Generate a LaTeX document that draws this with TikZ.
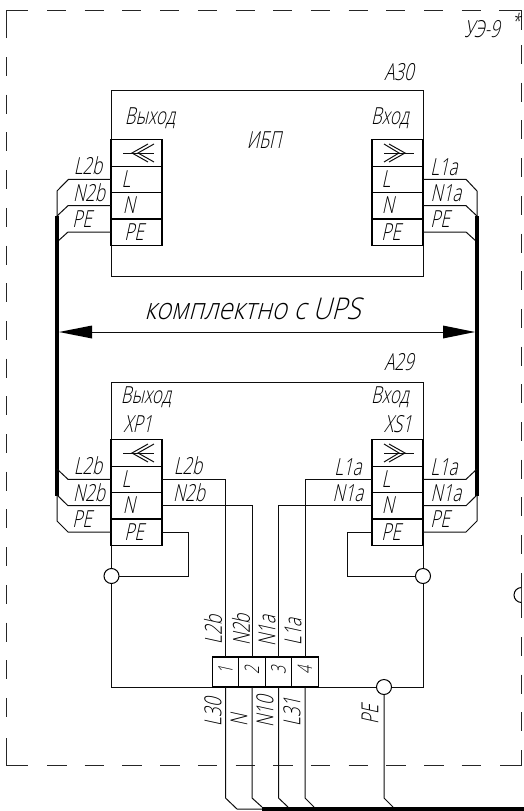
\documentclass[tikz,border=0pt]{standalone}
\usepackage{fontspec}
\setmainfont[FakeSlant=0.22,FakeStretch=0.72]{Open Sans Light}
\usetikzlibrary{arrows.meta}
\definecolor{ink}{gray}{0.05}
\tikzset{
  x=1pt,y=-1pt,
  wire/.style={line width=1pt,draw=ink,line join=miter},
  heavy/.style={line width=4.4pt,draw=black},
  cell/.style={draw=black,line width=1.2pt,minimum width=51pt,minimum height=26.4pt,inner sep=0pt,outer sep=0pt},
  box/.style={draw=ink,line width=1pt},
  ring/.style={circle,draw=black,fill=white,line width=1pt,minimum size=15pt,inner sep=0pt,outer sep=0pt},
  lab/.style={inner sep=0pt,font=\fontsize{23.5}{24}\selectfont,text=black},
  tlab/.style={lab,rotate=90},
  frame/.style={line width=1pt,draw=black!85},
  dim/.style={line width=1pt,draw=ink},
  termcell/.style={draw=black,line width=1.2pt,minimum width=26.5pt,minimum height=30pt,inner sep=0pt,outer sep=0pt,fill=white},
}
\newcommand{\blockat}[3]{% prefix, x-left, y-top
  \node[cell] (#1s) at (#2+25.5,#3+13) {};
  \node[cell] (#1l) at (#2+25.5,#3+39.3) {};
  \node[cell] (#1n) at (#2+25.5,#3+65.7) {};
  \node[cell] (#1p) at (#2+25.5,#3+92) {};
}
\begin{document}
\begin{tikzpicture}
\useasboundingbox (0,0) rectangle (524,811);
\clip (0,0) rectangle (524,811);
% frame
\draw[frame] (6,38) -- (6,10) -- (28,10);
\draw[frame] (6,738) -- (6,765) -- (28,765);
\draw[frame] (499,10) -- (521,10) -- (521,30);
\draw[frame] (500,765) -- (521,765) -- (521,750);
\foreach \k in {0,...,11}{
  \draw[frame] (47+37.7*\k,10) -- +(19,0);
  \draw[frame] (47+37.7*\k,765) -- +(19.5,0);
}
\foreach \k in {0,...,17}{
  \draw[frame] (6,57+37.7*\k) -- +(0,19);
}
\foreach \k in {0,...,13}{
  \draw[frame] (521,45+37.7*\k) -- +(0,19);
}
\draw[frame] (521,573) -- (521,618);
\foreach \k in {0,1,2}{
  \draw[frame] (521,637+37.5*\k) -- +(0,19);
}
\begin{scope}
\clip (500,580) rectangle (521,610);
\node[ring] (chassis) at (521.5,595) {};
\end{scope}
% boxes
\draw[box] (111,90) rectangle (423,276);
\node[lab] (ttl) at (150,118) {Выход};
\node[lab] (tti) at (390,118) {Вход};
\node[lab] (ups) at (264,140) {ИБП};
\node[lab] (a30) at (399,72) {А30};
\node[lab] (ue) at (482,29) {УЭ-9};
\node[lab,font=\fontsize{20}{20}\selectfont] (star) at (516,21) {*};
\blockat{ua}{111}{140}
\blockat{ub}{372}{140}
\draw[box] (111,382) rectangle (423,687);
\node[lab] (a29) at (399,362) {А29};
\node[lab] (ttv) at (146,397) {Выход};
\node[lab] (xp) at (138,424) {XP1};
\node[lab] (ttw) at (390,397) {Вход};
\node[lab] (xs) at (398,424) {XS1};
\blockat{ka}{111}{440}
\blockat{kb}{372}{440}
% plug symbols
\foreach \yy in {153,453}{
  \draw[wire] (123,\yy) -- (154,\yy);
  \draw[wire] (148,\yy-9) -- (132,\yy) -- (148,\yy+9);
  \draw[wire] (154,\yy-9) -- (138,\yy) -- (154,\yy+9);
  \draw[wire] (384,\yy) -- (414,\yy);
  \draw[wire] (384,\yy-9) -- (399,\yy) -- (384,\yy+9);
  \draw[wire] (389,\yy-9) -- (405,\yy) -- (389,\yy+9);
}
% cell labels
\foreach \off in {0,300}{
  \node[lab] at (126,179+\off) {L};
  \node[lab] at (129,205.5+\off) {N};
  \node[lab] at (134,232+\off) {PE};
  \node[lab] at (386,179+\off) {L};
  \node[lab] at (388,205.5+\off) {N};
  \node[lab] at (391,232+\off) {PE};
}
% outer labels
\foreach \off in {0,300}{
  \node[lab] at (88,166+\off) {L2b};
  \node[lab] at (89,193+\off) {N2b};
  \node[lab] at (82,219+\off) {PE};
  \node[lab] at (444,167+\off) {L1a};
  \node[lab] at (446,193+\off) {N1a};
  \node[lab] at (440,219+\off) {PE};
}
\node[lab] at (188,466) {L2b};
\node[lab] at (189,493) {N2b};
\node[lab] at (348,467) {L1a};
\node[lab] at (348,493) {N1a};
% bus
\coordinate (lbt) at (57,216);
\coordinate (lbb) at (57,496);
\coordinate (rbt) at (477,216);
\coordinate (rbb) at (477,496);
\draw[wire] (ual.west) -- (68.5,179.3) -- (57,191) -- (lbt);
\draw[wire] (uan.west) -- (68,205.7) -- (lbt);
\draw[wire] (uap.west) -- (68,232) -- (57,242);
\draw[wire] (ubl.east) -- (466,179.3) -- (477,191) -- (rbt);
\draw[wire] (ubn.east) -- (466,205.7) -- (rbt);
\draw[wire] (ubp.east) -- (466,232) -- (477,242);
\draw[heavy] (lbt) -- (lbb);
\draw[heavy] (rbt) -- (rbb);
\draw[wire] (kal.west) -- (68,479.3) -- (57,469);
\draw[wire] (kan.west) -- (68,505.7) -- (57,495);
\draw[wire] (kap.west) -- (68,532) -- (57,521) -- (lbb);
\draw[wire] (kbl.east) -- (466,479.3) -- (477,469);
\draw[wire] (kbn.east) -- (466,505.7) -- (477,495);
\draw[wire] (kbp.east) -- (466,532) -- (477,521) -- (rbb);
% dimension
\node[lab] (kom) at (252.5,309) {\fontsize{30}{30}\selectfont\scalebox{1.2}[1]{комплектно с UPS}};
\coordinate (dl) at (59,332);
\coordinate (dr) at (475,332);
\draw[dim] (92,332) -- (443,332);
\fill[black] (dl) -- (92,325.5) -- (92,338.5) -- cycle;
\fill[black] (dr) -- (443,325.5) -- (443,338.5) -- cycle;
% terminals
\foreach \i/\xx in {1/225.5,2/252,3/278.5,4/305}{
  \node[termcell] (t\i) at (\xx,672) {};
  \node[lab,rotate=90,font=\fontsize{20}{20}\selectfont] at (\xx,670) {\i};
}
% PE grounds
\node[ring] (gl) at (111.5,576) {};
\node[ring] (gr) at (423,576) {};
\node[ring] (gb) at (384,687) {};
\draw[wire] (kap.east) -- (188,532) -- (188,576) -- (gl.east);
\draw[wire] (kbp.west) -- (347,532) -- (347,576) -- (gr.west);
% wires to terminals
\draw[wire] (kal.east) -| (t1.north);
\draw[wire] (kan.east) -| (t2.north);
\draw[wire] (kbn.west) -| (t3.north);
\draw[wire] (kbl.west) -| (t4.north);
% top/bottom labels
\node[tlab] at (213,630) {L2b};
\node[tlab] at (241,630) {N2b};
\node[tlab] at (267,631) {N1a};
\node[tlab] at (293,632) {L1a};
\node[tlab] at (213,712) {L30};
\node[tlab] at (239,720) {N};
\node[tlab] at (265,712) {N10};
\node[tlab] at (292,712) {L31};
\node[tlab] at (370,715) {PE};
% lower wires
\coordinate (busl) at (262,809);
\coordinate (busr) at (524,809);
\draw[wire] (t1.south) -- (225.5,798) -- (237,809) -- (busl);
\draw[wire] (t2.south) -- (252,798) -- (262,807);
\draw[wire] (t3.south) -- (278.5,798) -- (288,807);
\draw[wire] (t4.south) -- (305,798) -- (314,807);
\draw[wire] (gb.south) -- (384,798) -- (393,807);
\draw[heavy] (busl) -- (busr);
\end{tikzpicture}
\end{document}
